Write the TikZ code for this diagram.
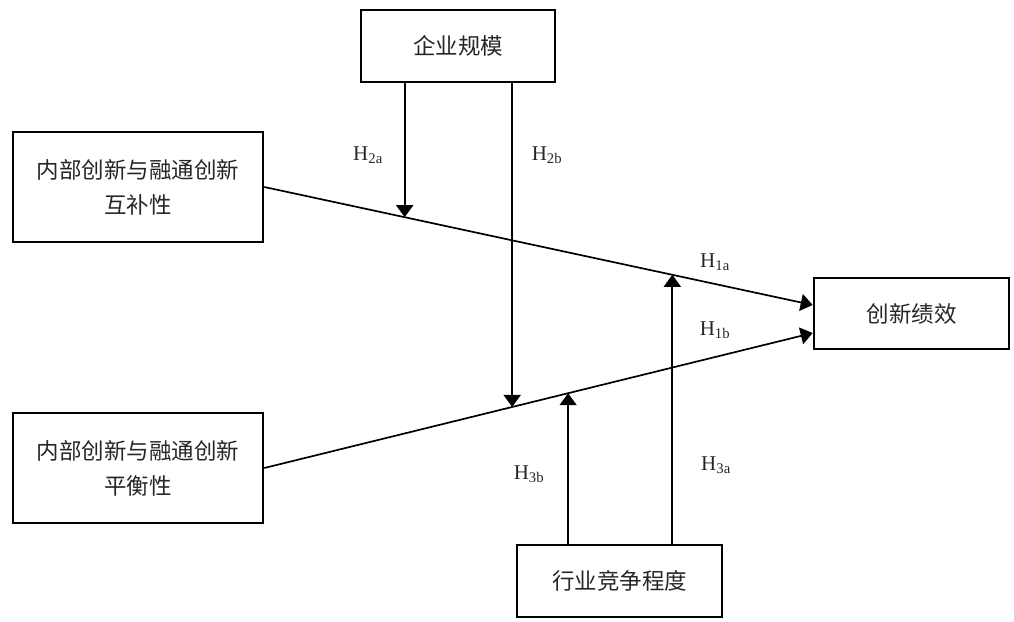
\documentclass[tikz,border=0pt]{standalone}
\usepackage{fontspec}
\setmainfont{Liberation Serif}
\newfontfamily\cjk{Noto Sans CJK SC}
\usetikzlibrary{arrows.meta}

\tikzset{
  box/.style={draw, line width=2.6pt, inner sep=0pt, align=center,
    text=black!85, font=\cjk\fontsize{22.5}{35}\selectfont},
  arr/.style={line width=1.7pt, -{Triangle[width=17pt,length=12pt]}},
  hyp/.style={text=black!85, font=\fontsize{21}{25}\selectfont}
}

\begin{document}
\begin{tikzpicture}[x=1pt,y=-1pt]
\useasboundingbox (0,0) rectangle (1014,621);

\def\W{250}
\def\H{110}

\node[box, minimum width=194pt, minimum height=72pt] (size) at (458,46) {企业规模};
\node[box, minimum width=\W pt, minimum height=\H pt] (comp) at (138,187) {内部创新与融通创新\\互补性};
\node[box, minimum width=\W pt, minimum height=\H pt] (bal) at (138,468) {内部创新与融通创新\\平衡性};
\node[box, minimum width=195pt, minimum height=71pt] (perf) at (911.5,313.5) {创新绩效};
\node[box, minimum width=205pt, minimum height=72pt] (compet) at (619.5,581) {行业竞争程度};

% main effects
\coordinate (p1) at ([yshift=8.5pt]perf.west);
\coordinate (p2) at ([yshift=-19.5pt]perf.west);
\draw[arr] (comp.east) -- coordinate[pos=.256] (m2a) coordinate[pos=.744] (m3a) (p1);
\draw[arr] (bal.east) -- coordinate[pos=.452] (m2b) coordinate[pos=.554] (m3b) (p2);

% moderators
\draw[arr] (size.south -| m2a) -- (m2a);
\draw[arr] (size.south -| m2b) -- (m2b);
\draw[arr] (compet.north -| m3b) -- (m3b);
\draw[arr] (compet.north -| m3a) -- (m3a);

\node[hyp] (h2a) at (368,155) {H\textsubscript{2a}};
\node[hyp] (h2b) at (547,155) {H\textsubscript{2b}};
\node[hyp] (h1a) at (715,262) {H\textsubscript{1a}};
\node[hyp] (h1b) at (715,330) {H\textsubscript{1b}};
\node[hyp] (h3b) at (529,474) {H\textsubscript{3b}};
\node[hyp] (h3a) at (716,465) {H\textsubscript{3a}};
\end{tikzpicture}
\end{document}
